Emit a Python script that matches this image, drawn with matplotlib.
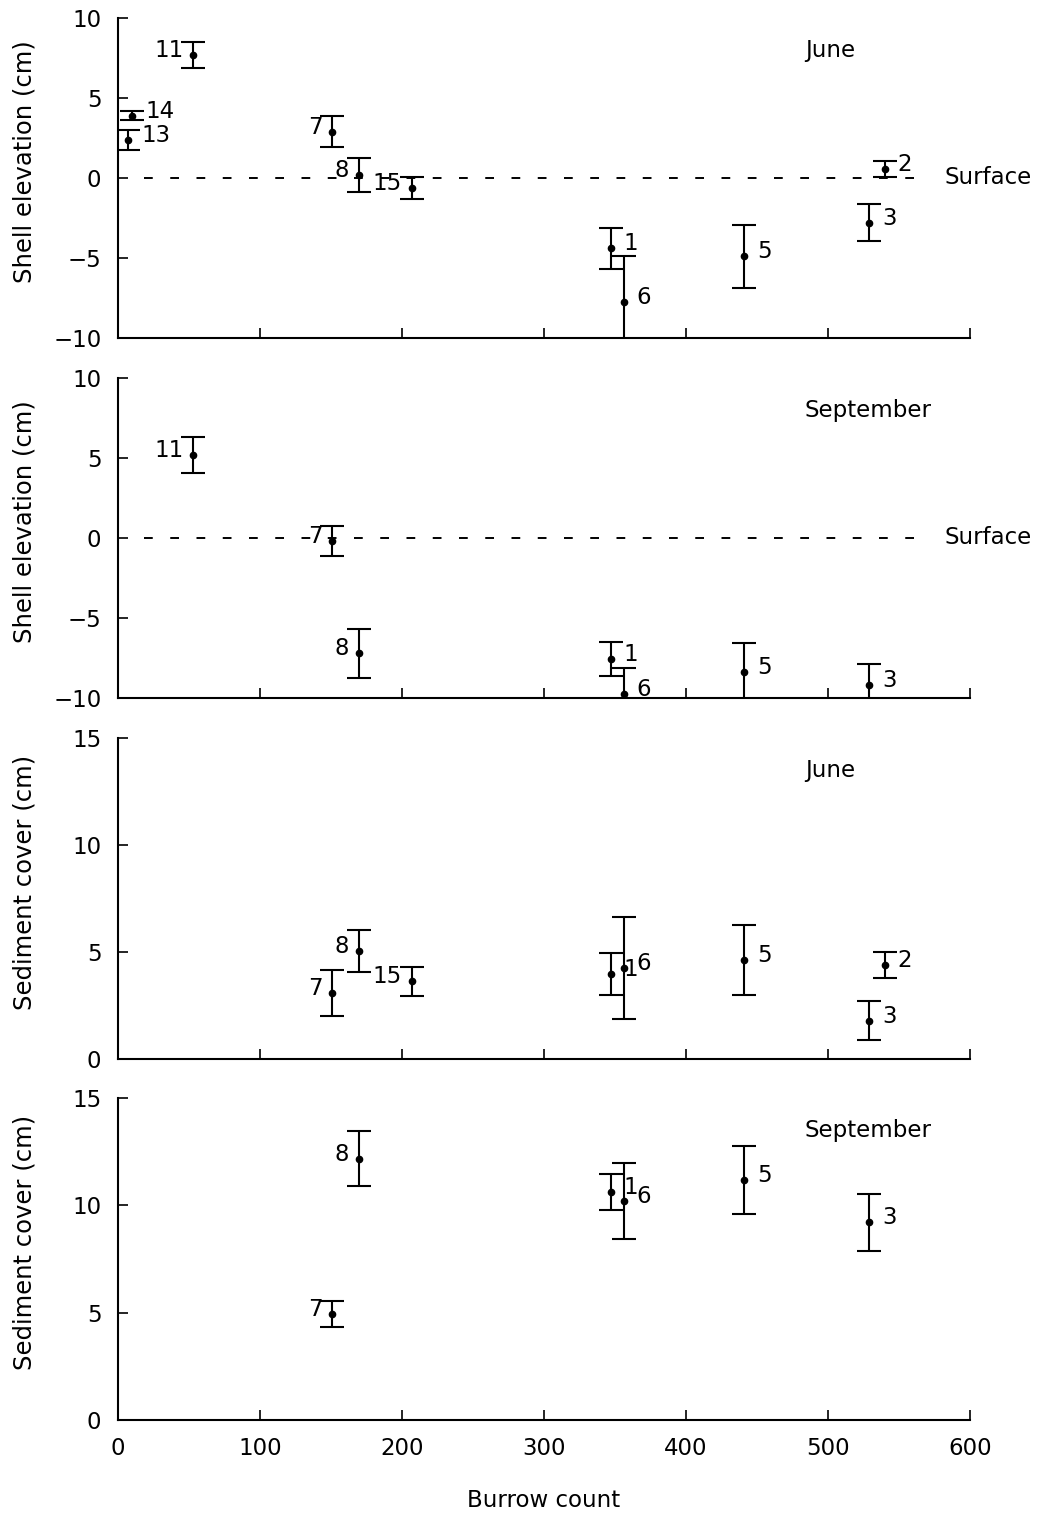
import matplotlib
matplotlib.use("Agg")
import matplotlib.pyplot as plt

# burrow count of each site (same for every panel)
sites = [1, 2, 3, 5, 6, 7, 8, 11, 13, 14, 15]
burrows = [347, 540, 529, 441, 356, 151, 170, 53, 7, 10, 207]

# shell elevation, June
june_shell_sites = [13, 14, 11, 7, 8, 15, 1, 6, 5, 3, 2]
june_shell_mean = [2.4, 3.9, 7.7, 2.9, 0.2, -0.6, -4.4, -7.75, -4.9, -2.8, 0.55]
june_shell_err = [0.63, 0.3, 0.8, 0.95, 1.05, 0.69, 1.28, 2.85, 1.97, 1.16, 0.5]

# shell elevation, September
sept_shell_sites = [11, 7, 8, 1, 6, 5, 3]
sept_shell_mean = [5.2, -0.2, -7.2, -7.55, -9.75, -8.4, -9.2]
sept_shell_err = [1.12, 0.94, 1.53, 1.06, 1.65, 1.85, 1.3]

# sediment cover, June
june_sed_sites = [7, 8, 15, 1, 6, 5, 2, 3]
june_sed_mean = [3.08, 5.05, 3.64, 3.97, 4.25, 4.63, 4.39, 1.78]
june_sed_err = [1.07, 0.98, 0.68, 1.0, 2.38, 1.64, 0.59, 0.91]

# sediment cover, September
sept_sed_sites = [8, 7, 1, 6, 5, 3]
sept_sed_mean = [12.16, 4.94, 10.62, 10.2, 11.18, 9.22]
sept_sed_err = [1.28, 0.6, 0.84, 1.75, 1.58, 1.33]

# sites whose number is written on the left of the bar
left_labelled = {7, 8, 11, 15}

burrow_of = dict(zip(sites, burrows))

plt.rcParams['font.family'] = ['DejaVu Sans']
FS = 16.5

fig = plt.figure(figsize=(10.43, 15.15), dpi=100)
W, H = 1043, 1515
left, right = 118, 970


def make_axes(top, bottom):
    return fig.add_axes([left / W, 1 - bottom / H, (right - left) / W, (bottom - top) / H])


panels = [
    (make_axes(18, 338), june_shell_sites, june_shell_mean, june_shell_err,
     (-10, 10), [-10, -5, 0, 5, 10], 'June', 'Shell elevation (cm)', True),
    (make_axes(378, 698), sept_shell_sites, sept_shell_mean, sept_shell_err,
     (-10, 10), [-10, -5, 0, 5, 10], 'September', 'Shell elevation (cm)', True),
    (make_axes(738, 1059), june_sed_sites, june_sed_mean, june_sed_err,
     (0, 15), [0, 5, 10, 15], 'June', 'Sediment cover (cm)', False),
    (make_axes(1098, 1420), sept_sed_sites, sept_sed_mean, sept_sed_err,
     (0, 15), [0, 5, 10, 15], 'September', 'Sediment cover (cm)', False),
]

for i, (ax, s, m, e, ylim, yticks, month, ylabel, surface) in enumerate(panels):
    x = [burrow_of[k] for k in s]

    if surface:
        ax.plot([18, 566], [0, 0], color='black', lw=1.4,
                linestyle=(0, (4.5, 9)), zorder=1)
        ax.text(582, 0, 'Surface', fontsize=FS, ha='left', va='center')

    ax.errorbar(x, m, yerr=e, fmt='o', ms=4.5, color='black', ecolor='black',
                elinewidth=1.5, capsize=8.5, capthick=1.5, zorder=3)

    for k, xi, yi in zip(s, x, m):
        if k in left_labelled:
            ax.annotate(str(k), (xi, yi), xytext=(-10, -2), textcoords='offset pixels',
                        ha='right', va='baseline', fontsize=FS)
        else:
            ax.annotate(str(k), (xi, yi), xytext=(13, -2), textcoords='offset pixels',
                        ha='left', va='baseline', fontsize=FS)

    ax.text(0.806, 0.9, month, transform=ax.transAxes, fontsize=FS,
            ha='left', va='center')

    ax.set_xlim(0, 600)
    ax.set_ylim(*ylim)
    ax.set_xticks([0, 100, 200, 300, 400, 500, 600])
    ax.set_yticks(yticks)
    for sp in ['top', 'right']:
        ax.spines[sp].set_visible(False)
    for sp in ['left', 'bottom']:
        ax.spines[sp].set_linewidth(1.5)
    ax.tick_params(direction='in', length=7, width=1.2, labelsize=16.5, pad=12)
    ax.set_ylabel(ylabel, fontsize=17.5)
    ax.yaxis.set_label_coords(-0.096, 0.55)
    if i < 3:
        ax.tick_params(labelbottom=False)
    else:
        ax.set_xlabel('Burrow count', fontsize=FS, va='top')
        ax.xaxis.set_label_coords(0.5, -0.215)

fig.savefig('out.png', dpi=100)
